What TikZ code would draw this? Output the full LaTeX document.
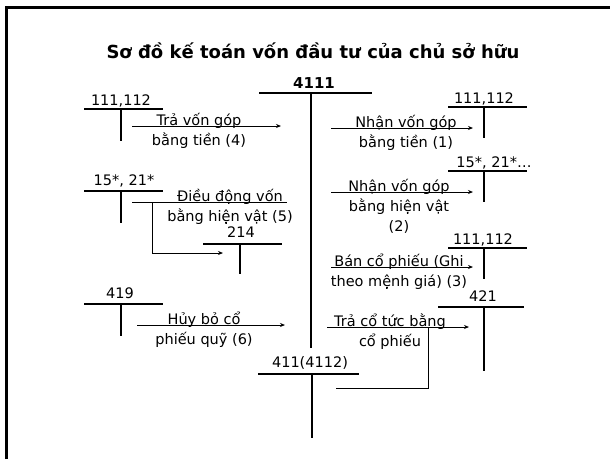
\documentclass[tikz,border=0pt]{standalone}
\usepackage{fontspec}
\setmainfont{DejaVu Sans}
\usetikzlibrary{arrows.meta}
\begin{document}
\begin{tikzpicture}[x=1pt,y=-1pt,
  tline/.style={line width=1.7pt},
  flow/.style={line width=1pt,-{Stealth[length=5pt,width=4pt]}},
  link/.style={line width=1pt},
  txt/.style={inner sep=0pt,anchor=base,align=center,font=\fontsize{14.5pt}{20pt}\selectfont},
  acct/.style={inner sep=0pt,anchor=base,font=\fontsize{14.5pt}{17pt}\selectfont},
  head/.style={inner sep=0pt,anchor=base,font=\bfseries\fontsize{18pt}{22pt}\selectfont}]
\useasboundingbox (0,0) rectangle (610,459);
\fill[white] (0,0) rectangle (610,459);
% slide frame
\draw[line width=3pt] (6,459) -- (6,7) -- (610,7);

% title
\node[head] (title) at (313,58) {Sơ đồ kế toán vốn đầu tư của chủ sở hữu};

% central account 4111
\node[inner sep=0pt,anchor=base,font=\bfseries\fontsize{15pt}{18pt}\selectfont] (a4111) at (314,88) {4111};
\draw[tline] (259,93) -- (372,93);
\draw[tline] (311,93) -- (311,348);

% account 411(4112)
\node[acct] (a4112) at (310,367) {411(4112)};
\draw[tline] (258,374) -- (359,374);
\draw[tline] (312,374) -- (312,438);

% left side accounts
\node[acct] (l111) at (121,105) {111,112};
\draw[tline] (84,109) -- (163,109);
\draw[tline] (121,109) -- (121,141);

\node[acct] (l15) at (124,185) {15*, 21*};
\draw[tline] (84,191) -- (163,191);
\draw[tline] (121,191) -- (121,223);

\node[acct] (l214) at (241,237) {214};
\draw[tline] (203,244) -- (282,244);
\draw[tline] (240,244) -- (240,274);

\node[acct] (l419) at (120,298) {419};
\draw[tline] (84,304) -- (163,304);
\draw[tline] (121,304) -- (121,336);

% right side accounts
\node[acct] (r111a) at (484,103) {111,112};
\draw[tline] (448,107) -- (527,107);
\draw[tline] (484,107) -- (484,138);

\node[acct] (r15) at (494,167) {15*, 21*…};
\draw[tline] (448,171) -- (527,171);
\draw[tline] (484,171) -- (484,202);

\node[acct] (r111b) at (483,244) {111,112};
\draw[tline] (448,248) -- (527,248);
\draw[tline] (484,248) -- (484,279);

\node[acct] (r421) at (483,301) {421};
\draw[tline] (438,307) -- (524,307);
\draw[tline] (484,307) -- (484,371);

% flow endpoints
\coordinate (f4s) at (132,126);  \coordinate (f4e) at (281,126);
\coordinate (f5s) at (132,202);  \coordinate (f5e) at (287,202);
\coordinate (f5k) at (152,202);  \coordinate (f5t) at (223,253);
\coordinate (f6s) at (137,325);  \coordinate (f6e) at (285,325);
\coordinate (f1s) at (331,128);  \coordinate (f1e) at (473,128);
\coordinate (f2s) at (331,192);  \coordinate (f2e) at (473,192);
\coordinate (f3s) at (331,267);  \coordinate (f3e) at (473,267);
\coordinate (f7s) at (327,327);  \coordinate (f7e) at (469,327);
\coordinate (f7k) at (428,327);  \coordinate (f7t) at (336,388);

% flows with their captions (node base = baseline of the last line)
\draw[flow] (f4s) -- (f4e);
\node[txt] (t4) at (199,145) {Trả vốn góp\\bằng tiền (4)};

\draw[link] (f5s) -- (f5e);
\draw[flow] (f5k) |- (f5t);
\node[txt] (t5) at (230,221) {Điều động vốn\\bằng hiện vật (5)};

\draw[flow] (f6s) -- (f6e);
\node[txt] (t6) at (204,344) {Hủy bỏ cổ\\phiếu quỹ (6)};

\draw[flow] (f1s) -- (f1e);
\node[txt] (t1) at (406,147) {Nhận vốn góp\\bằng tiền (1)};

\draw[flow] (f2s) -- (f2e);
\node[txt] (t2) at (399,231) {Nhận vốn góp\\bằng hiện vật\\(2)};

\draw[flow] (f3s) -- (f3e);
\node[txt] (t3) at (399,286) {Bán cổ phiếu (Ghi\\theo mệnh giá) (3)};

\draw[flow] (f7s) -- (f7e);
\draw[link] (f7k) |- (f7t);
\node[txt] (t7) at (390,346) {Trả cổ tức bằng\\cổ phiếu};
\end{tikzpicture}
\end{document}
